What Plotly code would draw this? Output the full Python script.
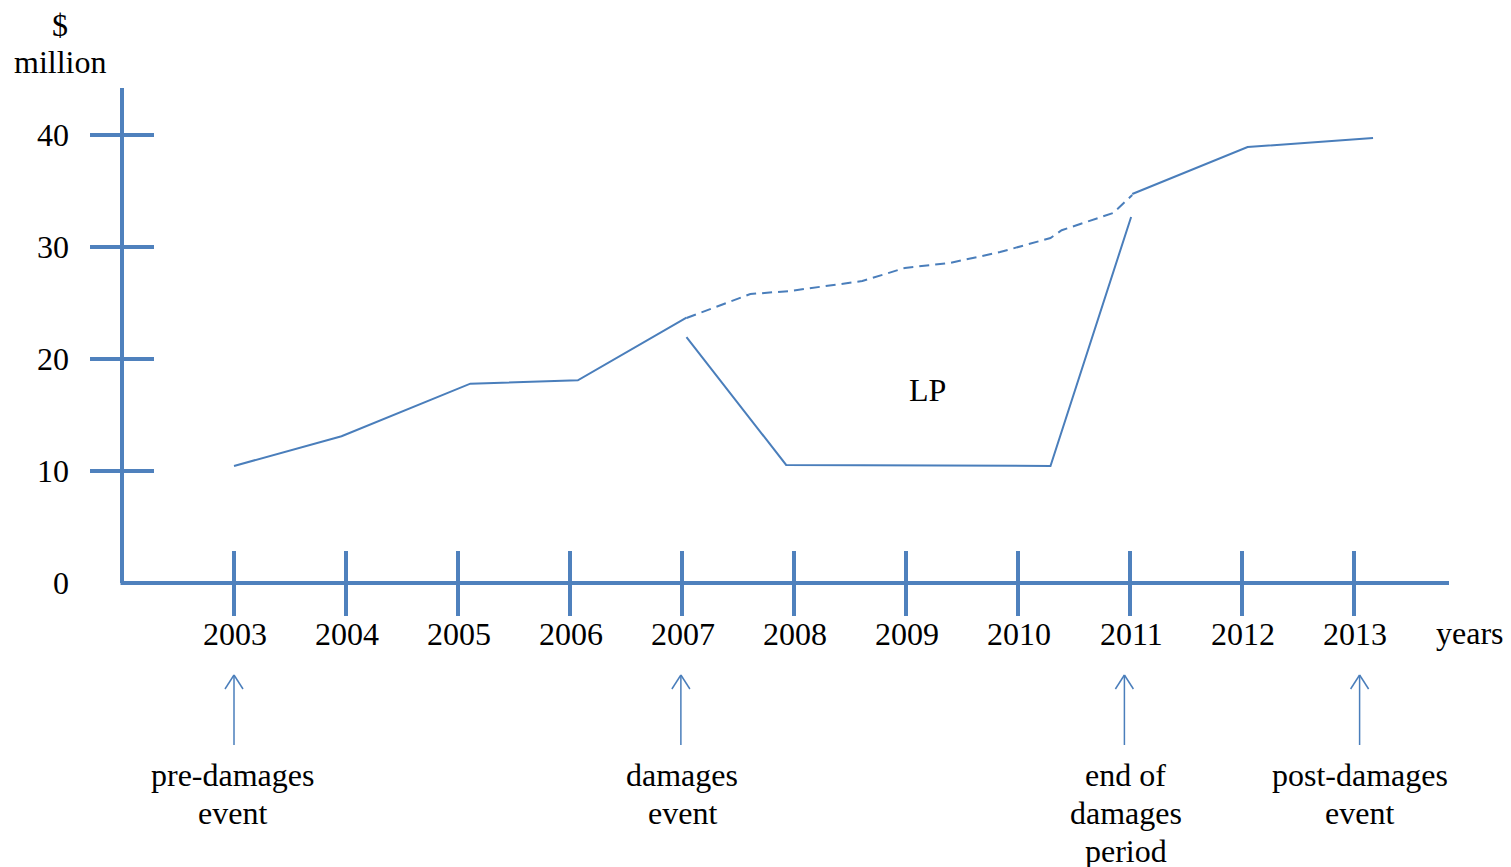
import plotly.graph_objects as go

# ---- data (years as fractional positions, values in $ million) ----
years = [2003, 2004, 2005, 2006, 2007, 2008, 2009, 2010, 2011, 2012, 2013]
y_ticks = [0, 10, 20, 30, 40]

pre_x = [2003.0, 2003.96, 2005.11, 2006.07, 2007.04]
pre_y = [10.45, 13.1, 17.8, 18.1, 23.7]

butfor_x = [2007.04, 2007.61, 2007.96, 2008.61, 2008.99, 2009.39, 2009.84, 2010.29, 2010.39, 2010.85, 2011.02]
butfor_y = [23.66, 25.8, 26.07, 26.96, 28.13, 28.57, 29.55, 30.8, 31.5, 33.04, 34.64]

post_x = [2011.02, 2012.05, 2013.17]
post_y = [34.73, 38.93, 39.73]

actual_x = [2007.04, 2007.93, 2010.29, 2011.01]
actual_y = [21.96, 10.54, 10.45, 32.68]

event_labels = [["pre-damages", "event"], ["damages", "event"], ["end of", "damages", "period"], ["post-damages", "event"]]
event_x = [2003.0, 2006.99, 2010.95, 2013.05]
label_x = [2002.99, 2007.0, 2010.96, 2013.05]

# ---- scale: pixel mapping (page has 8px body margin) ----
W, H = 1511, 867
PAGE_OFF = 8
PX_YEAR = 112.0   # px per year
PX_VAL = 11.2     # px per $m
REF_X0, REF_Y0 = 234, 583          # screen px of (2003, 0)
X0_PX, Y0_PX = REF_X0 - PAGE_OFF, REF_Y0 - PAGE_OFF
x_range = [2003 - X0_PX / PX_YEAR, 2003 + (W - X0_PX) / PX_YEAR]
y_range = [(Y0_PX - H) / PX_VAL, Y0_PX / PX_VAL]

def dx(px):
    return px / PX_YEAR

def dy(px):
    return px / PX_VAL

def sx(px):  # screen x -> data x
    return 2003 + dx(px - REF_X0)

def sy(px):  # screen y -> data y
    return dy(REF_Y0 - px)

BLUE = "#4A7EBB"
AXIS = "#4F81BD"
FONT = "Liberation Serif, Times New Roman, serif"
FS = 32

fig = go.Figure()
line_kw = dict(color=BLUE, width=2)
fig.add_trace(go.Scatter(x=pre_x, y=pre_y, mode="lines", line=line_kw, hoverinfo="skip"))
fig.add_trace(go.Scatter(x=butfor_x, y=butfor_y, mode="lines",
                         line=dict(color=BLUE, width=2, dash="10px,6px"), hoverinfo="skip"))
fig.add_trace(go.Scatter(x=post_x, y=post_y, mode="lines", line=line_kw, hoverinfo="skip"))
fig.add_trace(go.Scatter(x=actual_x, y=actual_y, mode="lines", line=line_kw, hoverinfo="skip"))

shapes = []
y_axis_x = sx(122)
x_axis_end = sx(1449)
# axes
shapes.append(dict(type="line", x0=y_axis_x, x1=y_axis_x, y0=0, y1=sy(88),
                   line=dict(color=AXIS, width=4)))
shapes.append(dict(type="line", x0=y_axis_x - dx(1.5), x1=x_axis_end, y0=0, y1=0,
                   line=dict(color=AXIS, width=4)))
# y ticks
for v in y_ticks[1:]:
    shapes.append(dict(type="line", x0=y_axis_x - dx(32), x1=y_axis_x + dx(32), y0=v, y1=v,
                       line=dict(color=AXIS, width=4)))
# x ticks
for yr in years:
    shapes.append(dict(type="line", x0=yr, x1=yr, y0=dy(32), y1=-dy(33),
                       line=dict(color=AXIS, width=4)))
# arrows (vertical line with open V head)
for ex in event_x:
    tip = sy(675)
    tail = sy(745)
    shapes.append(dict(type="line", x0=ex, x1=ex, y0=tail, y1=tip, line=dict(color=BLUE, width=1.5)))
    for s in (-1, 1):
        shapes.append(dict(type="line", x0=ex, x1=ex + s * dx(9), y0=tip, y1=tip - dy(14),
                           line=dict(color=BLUE, width=1.5)))

annotations = []
txt = dict(font=dict(family=FONT, size=FS, color="black"), showarrow=False)
for yr in years:
    annotations.append(dict(x=yr + dx(1), y=sy(634), text=str(yr), xanchor="center", yanchor="middle", **txt))
for v in y_ticks:
    annotations.append(dict(x=sx(71), y=v, text=str(v), xanchor="right", yanchor="middle", **txt))
annotations.append(dict(x=sx(1470), y=sy(633), text="years", xanchor="center", yanchor="middle", **txt))
annotations.append(dict(x=sx(60), y=sy(25), text="$", xanchor="center", yanchor="middle", **txt))
annotations.append(dict(x=sx(60), y=sy(62), text="million", xanchor="center", yanchor="middle", **txt))
annotations.append(dict(x=sx(927), y=sy(390), text="LP", xanchor="center", yanchor="middle", **txt))
for lx, lines in zip(label_x, event_labels):
    for i, line in enumerate(lines):
        annotations.append(dict(x=lx, y=sy(775 + 38 * i), text=line, xanchor="center", yanchor="middle", **txt))

fig.update_layout(
    width=W, height=H,
    margin=dict(l=0, r=0, t=0, b=0),
    paper_bgcolor="white", plot_bgcolor="white",
    showlegend=False,
    xaxis=dict(range=x_range, visible=False, fixedrange=True),
    yaxis=dict(range=y_range, visible=False, fixedrange=True),
    shapes=shapes,
    annotations=annotations,
)

fig.write_html("out.html", config={"displayModeBar": False})
